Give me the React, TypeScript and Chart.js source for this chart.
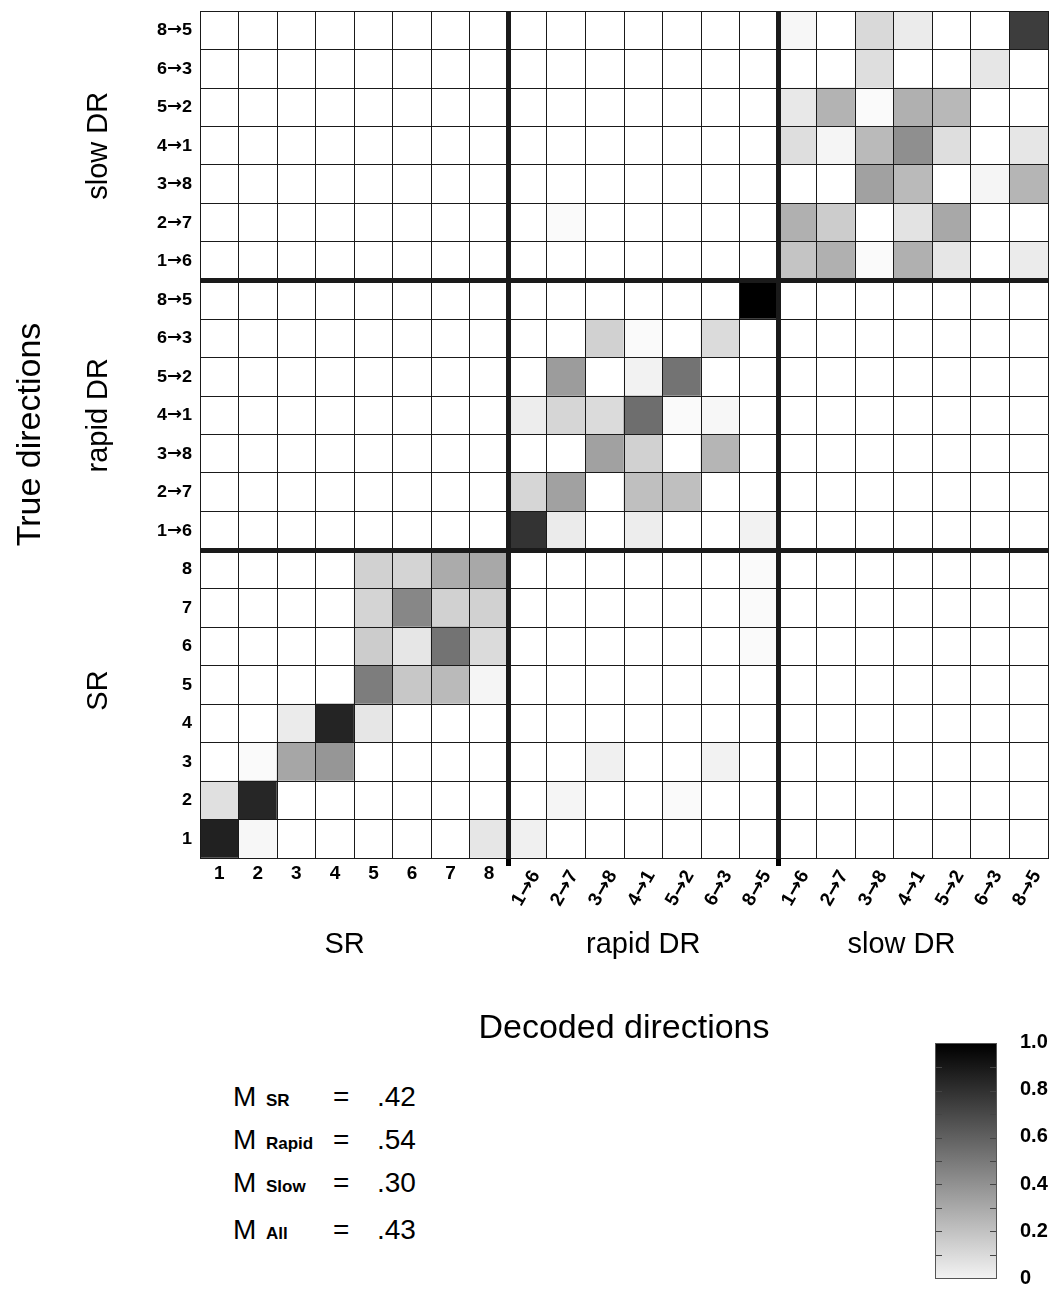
import React, { useEffect, useRef } from "react";
import { Chart, registerables } from "chart.js";

Chart.register(...registerables);

const FONT = "'Liberation Sans', Arial, sans-serif";
const DIR_FONT = "DirLabel, 'Liberation Sans', Arial, sans-serif";

const fontFaces = `
@font-face { font-family: 'DirLabel'; font-weight: bold; src: local('Liberation Sans Bold'), local('LiberationSans-Bold'); unicode-range: U+0000-218F; }
@font-face { font-family: 'DirLabel'; font-weight: bold; src: local('DejaVu Sans Bold'), local('DejaVuSans-Bold'); unicode-range: U+2190-21FF; }
`;

// Decoded directions (columns, left to right)
const decodedLabels = [
  "1", "2", "3", "4", "5", "6", "7", "8",
  "1→6", "2→7", "3→8", "4→1", "5→2", "6→3", "8→5",
  "1→6", "2→7", "3→8", "4→1", "5→2", "6→3", "8→5",
];
// True directions (rows, bottom to top)
const trueLabels = [
  "1", "2", "3", "4", "5", "6", "7", "8",
  "1→6", "2→7", "3→8", "4→1", "5→2", "6→3", "8→5",
  "1→6", "2→7", "3→8", "4→1", "5→2", "6→3", "8→5",
];
const groupNames = ["SR", "rapid DR", "slow DR"];

// Each row: decoded proportions, columns SR1..8 | rapid 1→6..8→5 | slow 1→6..8→5
const srRows: number[][] = [
  [0.87, 0.03, 0, 0, 0, 0, 0, 0.1, 0.06, 0, 0, 0, 0, 0, 0, 0, 0, 0, 0, 0, 0, 0],
  [0.12, 0.85, 0, 0, 0, 0, 0, 0, 0, 0.04, 0, 0, 0.02, 0, 0, 0, 0, 0, 0, 0, 0, 0],
  [0, 0.02, 0.35, 0.41, 0, 0, 0, 0, 0, 0, 0.06, 0, 0, 0.05, 0, 0, 0, 0, 0, 0, 0, 0],
  [0, 0, 0.08, 0.86, 0.1, 0, 0, 0, 0, 0, 0, 0, 0, 0, 0, 0, 0, 0, 0, 0, 0, 0],
  [0, 0, 0, 0, 0.51, 0.22, 0.27, 0.04, 0, 0, 0, 0, 0, 0, 0, 0, 0, 0, 0, 0, 0, 0],
  [0, 0, 0, 0, 0.2, 0.1, 0.55, 0.14, 0, 0, 0, 0, 0, 0, 0.02, 0, 0, 0, 0, 0, 0, 0],
  [0, 0, 0, 0, 0.17, 0.47, 0.18, 0.18, 0, 0, 0, 0, 0, 0, 0.02, 0, 0, 0, 0, 0, 0, 0],
  [0, 0, 0, 0, 0.18, 0.17, 0.33, 0.34, 0, 0, 0, 0, 0, 0, 0.02, 0, 0, 0, 0, 0, 0, 0],
];
const rapidRows: number[][] = [
  [0, 0, 0, 0, 0, 0, 0, 0, 0.8, 0.08, 0, 0.07, 0, 0, 0.05, 0, 0, 0, 0, 0, 0, 0],
  [0, 0, 0, 0, 0, 0, 0, 0, 0.16, 0.37, 0, 0.25, 0.25, 0, 0, 0, 0, 0, 0, 0, 0, 0],
  [0, 0, 0, 0, 0, 0, 0, 0, 0, 0, 0.37, 0.18, 0, 0.29, 0, 0, 0, 0, 0, 0, 0, 0],
  [0, 0, 0, 0, 0, 0, 0, 0, 0.07, 0.16, 0.14, 0.57, 0.02, 0.03, 0, 0, 0, 0, 0, 0, 0, 0],
  [0, 0, 0, 0, 0, 0, 0, 0, 0, 0.39, 0, 0.05, 0.55, 0, 0, 0, 0, 0, 0, 0, 0, 0],
  [0, 0, 0, 0, 0, 0, 0, 0, 0, 0, 0.18, 0.02, 0, 0.14, 0, 0, 0, 0, 0, 0, 0, 0],
  [0, 0, 0, 0, 0, 0, 0, 0, 0, 0, 0, 0, 0, 0, 1.0, 0, 0, 0, 0, 0, 0, 0],
];
const slowRows: number[][] = [
  [0, 0, 0, 0, 0, 0, 0, 0, 0, 0, 0, 0, 0, 0, 0, 0.23, 0.31, 0.02, 0.31, 0.1, 0, 0.08],
  [0, 0, 0, 0, 0, 0, 0, 0, 0, 0.02, 0, 0, 0, 0, 0, 0.31, 0.2, 0, 0.11, 0.34, 0, 0],
  [0, 0, 0, 0, 0, 0, 0, 0, 0, 0, 0, 0, 0, 0, 0, 0, 0, 0.37, 0.27, 0, 0.04, 0.29],
  [0, 0, 0, 0, 0, 0, 0, 0, 0, 0, 0, 0, 0, 0, 0, 0.13, 0.04, 0.27, 0.44, 0.13, 0, 0.1],
  [0, 0, 0, 0, 0, 0, 0, 0, 0, 0, 0, 0, 0, 0, 0, 0.09, 0.3, 0.02, 0.31, 0.28, 0, 0],
  [0, 0, 0, 0, 0, 0, 0, 0, 0, 0, 0, 0, 0, 0, 0, 0, 0, 0.13, 0, 0, 0.1, 0],
  [0, 0, 0, 0, 0, 0, 0, 0, 0, 0, 0, 0, 0, 0, 0, 0.03, 0, 0.15, 0.08, 0, 0, 0.76],
];

const colorbarTickValues = [0, 0.2, 0.4, 0.6, 0.8, 1.0];
const colorbarTickLabels = ["0", "0.2", "0.4", "0.6", "0.8", "1.0"];
const colorbarMinorTicks = [0.1, 0.2, 0.3, 0.4, 0.5, 0.6, 0.7, 0.8, 0.9];

const mGroups = ["SR", "Rapid", "Slow", "All"];
const mValues = [".42", ".54", ".30", ".43"];

const shade = (v: number) => {
  const g = Math.round(255 * (1 - v));
  return `rgb(${g},${g},${g})`;
};

export default function App() {
  const ref = useRef<HTMLCanvasElement>(null);

  useEffect(() => {
    if (!ref.current) return;
    Chart.defaults.font.family = FONT;
    Chart.defaults.color = "#000";

    const matrix = [...srRows, ...rapidRows, ...slowRows];
    const b1 = srRows.length;
    const b2 = srRows.length + rapidRows.length;
    const thickIdx = (i: any) => i === b1 || i === b2;
    const lineColor = "#1a1a1a";

    const datasets = matrix.map((row, k) => ({
      label: trueLabels[k],
      data: row.map(() => 1),
      backgroundColor: row.map((v) => shade(v)),
      borderWidth: 0,
      barPercentage: 1,
      categoryPercentage: 1,
      xAxisID: "x",
      yAxisID: "y",
      stack: "cells",
    }));

    const zeroPad = (s: any) => {
      s.paddingTop = 0;
      s.paddingBottom = 0;
      s.paddingLeft = 0;
      s.paddingRight = 0;
    };

    const chart = new Chart(ref.current, {
      type: "bar",
      data: { labels: decodedLabels, datasets: datasets as any },
      options: {
        animation: false,
        responsive: true,
        maintainAspectRatio: false,
        events: [],
        layout: { padding: { top: 11, right: 15, left: 0, bottom: 0 } },
        plugins: {
          legend: { display: false },
          tooltip: { enabled: false },
          title: { display: false },
        },
        scales: {
          x: {
            type: "category",
            axis: "x",
            position: "bottom",
            weight: 0,
            offset: true,
            stacked: true,
            grid: {
              offset: true,
              z: 1,
              color: lineColor,
              lineWidth: (c: any) => (thickIdx(c.index) ? 5 : 1),
              drawTicks: true,
              tickLength: 8,
              tickWidth: (c: any) => (thickIdx(c.index) ? 5 : 1),
              tickColor: (c: any) => (thickIdx(c.index) ? "#000" : "rgba(0,0,0,0)"),
            },
            border: { display: true, color: lineColor, width: 1, z: 1 },
            ticks: {
              autoSkip: false,
              minRotation: 60,
              maxRotation: 60,
              padding: 0,
              labelOffset: 8,
              font: { family: DIR_FONT, size: 19, weight: "bold" },
              color: "#000",
              callback: (_v: any, i: number) => (i < b1 ? "" : decodedLabels[i]),
            },
            afterFit: (s: any) => {
              s.height = 55;
              zeroPad(s);
            },
          } as any,
          xn: {
            type: "category",
            axis: "x",
            position: { y: 0 },
            labels: decodedLabels,
            offset: true,
            grid: { display: false, drawTicks: false },
            border: { display: false },
            ticks: {
              autoSkip: false,
              minRotation: 0,
              maxRotation: 0,
              padding: 4,
              font: { size: 19, weight: "bold" },
              color: "#000",
              callback: (_v: any, i: number) => (i < b1 ? decodedLabels[i] : ""),
            },
            afterFit: (s: any) => zeroPad(s),
          } as any,
          xg: {
            type: "linear",
            axis: "x",
            position: "bottom",
            weight: 1,
            offset: false,
            min: 0,
            max: decodedLabels.length,
            afterBuildTicks: (s: any) => {
              s.ticks = [3.75, 11.5, 18.2].map((value) => ({ value }));
            },
            grid: { display: false, drawTicks: false, offset: false },
            border: { display: false },
            ticks: {
              autoSkip: false,
              minRotation: 0,
              maxRotation: 0,
              padding: 15,
              font: { size: 29 },
              color: "#000",
              callback: (_v: any, i: number) => groupNames[i],
            },
            title: {
              display: true,
              text: "Decoded directions",
              font: { size: 34 },
              color: "#000",
              padding: { top: 0, bottom: 11 },
            },
            afterFit: (s: any) => {
              s.height = 147;
              zeroPad(s);
            },
          } as any,
          y: {
            type: "linear",
            axis: "y",
            position: "left",
            weight: 0,
            min: 0,
            max: trueLabels.length,
            stacked: true,
            ticks: { display: false, stepSize: 1 },
            grid: {
              z: 1,
              color: lineColor,
              lineWidth: (c: any) => (c.tick && thickIdx(c.tick.value) ? 5 : 1),
              drawTicks: false,
            },
            border: { display: true, color: lineColor, width: 1, z: 1 },
            afterFit: (s: any) => {
              s.width = 0;
              zeroPad(s);
            },
          } as any,
          yl: {
            type: "category",
            axis: "y",
            position: "left",
            weight: 1,
            labels: trueLabels,
            reverse: true,
            offset: true,
            grid: { display: false, drawTicks: false },
            border: { display: false },
            ticks: {
              autoSkip: false,
              padding: 8,
              font: { family: DIR_FONT, size: 18, weight: "bold" },
              color: "#000",
            },
            afterFit: (s: any) => {
              s.width = 44;
              zeroPad(s);
            },
          } as any,
          yg: {
            type: "linear",
            axis: "y",
            position: "left",
            weight: 2,
            offset: false,
            min: 0,
            max: trueLabels.length,
            afterBuildTicks: (s: any) => {
              s.ticks = [4.35, 11.5, 18.5].map((value) => ({ value }));
            },
            grid: { display: false, drawTicks: false },
            border: { display: false },
            ticks: {
              autoSkip: false,
              minRotation: 90,
              maxRotation: 90,
              crossAlign: "center",
              padding: 0,
              font: { size: 29 },
              color: "#000",
              callback: (_v: any, i: number) => groupNames[i],
            },
            title: {
              display: true,
              text: "True directions",
              font: { size: 34 },
              color: "#000",
              padding: { top: 10, bottom: 0 },
            },
            afterFit: (s: any) => {
              s.width = 156;
              zeroPad(s);
            },
          } as any,
        },
      } as any,
    });

    let alive = true;
    const fontsApi = (document as any).fonts;
    if (fontsApi && fontsApi.load) {
      Promise.all([
        fontsApi.load("bold 18px DirLabel", "8→5"),
        fontsApi.load("bold 19px DirLabel", "8→5"),
      ])
        .then(() => {
          if (alive) chart.update("none");
        })
        .catch(() => {});
    }
    return () => {
      alive = false;
      chart.destroy();
    };
  }, []);

  const rowCenters = [1097, 1140, 1183, 1230];
  const barTop = 1043;
  const barHeight = 236;

  return (
    <div
      style={{
        position: "absolute",
        left: 0,
        top: 0,
        width: 1063,
        height: 1290,
        overflow: "hidden",
        background: "#fff",
        fontFamily: FONT,
        color: "#000",
      }}
    >
      <style>{fontFaces}</style>
      <div style={{ position: "absolute", left: 0, top: 0, width: 1063, height: 1060 }}>
        <canvas ref={ref} />
      </div>

      {mGroups.map((g, i) => (
        <div
          key={g}
          style={{
            position: "absolute",
            left: 233,
            top: rowCenters[i] - 18,
            height: 36,
            display: "flex",
            alignItems: "baseline",
            whiteSpace: "nowrap",
            lineHeight: "36px",
          }}
        >
          <span style={{ display: "inline-block", width: 33, fontSize: 28 }}>M</span>
          <span style={{ display: "inline-block", width: 67, fontSize: 17, fontWeight: "bold" }}>{g}</span>
          <span style={{ display: "inline-block", width: 44, fontSize: 28 }}>=</span>
          <span style={{ display: "inline-block", fontSize: 28 }}>{mValues[i]}</span>
        </div>
      ))}

      <div
        style={{
          position: "absolute",
          left: 935,
          top: barTop,
          width: 62,
          height: barHeight,
          border: "1px solid #555",
          boxSizing: "border-box",
          background: "linear-gradient(to bottom, #000 0%, #f2f2f2 100%)",
        }}
      >
        {colorbarMinorTicks.map((v) => (
          <React.Fragment key={v}>
            <div
              style={{
                position: "absolute",
                left: 0,
                top: (1 - v) * (barHeight - 2),
                width: 6,
                height: 1,
                background: "#444",
              }}
            />
            <div
              style={{
                position: "absolute",
                right: 0,
                top: (1 - v) * (barHeight - 2),
                width: 6,
                height: 1,
                background: "#444",
              }}
            />
          </React.Fragment>
        ))}
      </div>
      {colorbarTickValues.map((v, i) => (
        <div
          key={v}
          style={{
            position: "absolute",
            left: 1020,
            top: barTop + (1 - v) * barHeight - 14,
            height: 24,
            lineHeight: "24px",
            fontSize: 20,
            fontWeight: "bold",
          }}
        >
          {colorbarTickLabels[i]}
        </div>
      ))}
    </div>
  );
}
